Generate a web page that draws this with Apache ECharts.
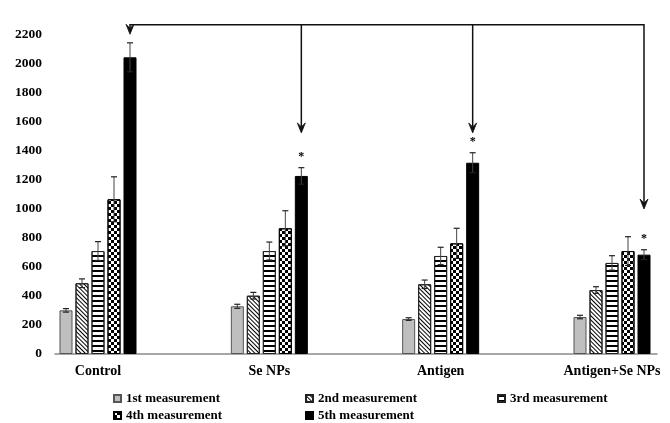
<!DOCTYPE html>
<html>
<head>
<meta charset="utf-8">
<script src="https://cdn.jsdelivr.net/npm/echarts@6/dist/echarts.min.js"></script>
<style>
  html, body { margin: 0; padding: 0; background: #fff; }
  #chart { width: 670px; height: 423px; }
</style>
</head>
<body>
<div id="chart"></div>
<script>
// groups on the x axis
const categories = ["Control", "Se NPs", "Antigen", "Antigen+Se NPs"];
const seriesNames = ["1st measurement", "2nd measurement", "3rd measurement", "4th measurement", "5th measurement"];

const m1 = [301, 329, 241, 255];
const m2 = [488, 402, 481, 441];
const m3 = [710, 710, 676, 628];
const m4 = [1067, 867, 763, 710];
const m5 = [2046, 1228, 1319, 685];

// error bar half-heights
const e1 = [12, 14, 9, 12];
const e2 = [30, 23, 29, 23];
const e3 = [65, 62, 60, 50];
const e4 = [155, 121, 104, 99];
const e5 = [100, 57, 69, 34];

// significance marks above the 5th measurement
const stars5 = ["", "*", "*", "*"];

// arrows: where each arrow ends (in y units) and the height of the top connector
const arrowTips = [2205, 1525, 1525, 1000];
const arrowTop = 2270;

const yMin = 0, yMax = 2200, yStep = 200;

const FONT = "'Liberation Serif', 'Times New Roman', serif";
const BAR_W = 13;
const GAP_PX = 3;

const means = [m1, m2, m3, m4, m5];
const errs = [e1, e2, e3, e4, e5];

const styles = [
  { color: "#bfbfbf", borderColor: "#555", borderWidth: 1 },
  {
    color: "#fff", borderColor: "#222", borderWidth: 1,
    decal: { symbol: "rect", symbolSize: 1, color: "#000", dashArrayX: [1, 0], dashArrayY: [1, 2], rotation: Math.PI / 4 }
  },
  {
    color: "#fff", borderColor: "#222", borderWidth: 1,
    decal: { symbol: "rect", symbolSize: 1, color: "#000", dashArrayX: [1, 0], dashArrayY: [1.2, 2.8], rotation: 0 }
  },
  {
    color: "#fff", borderColor: "#000", borderWidth: 1,
    decal: { symbol: "rect", symbolSize: 1, color: "#000", dashArrayX: [[3, 3], [0, 3, 3, 0]], dashArrayY: [3, 0], rotation: 0 }
  },
  { color: "#000", borderColor: "#000", borderWidth: 1 }
];

const chart = echarts.init(document.getElementById("chart"));

let series = [];
means.forEach((vals, k) => {
  series.push({
    name: seriesNames[k],
    type: "bar",
    xAxisIndex: 0,
    yAxisIndex: 0,
    barWidth: BAR_W,
    barGap: (GAP_PX / BAR_W * 100) + "%",
    clip: false,
    data: vals,
    itemStyle: styles[k],
    emphasis: { disabled: true }
  });
});

// error bars, one custom series per measurement
means.forEach((vals, k) => {
  const offset = (k - 2) * (BAR_W + GAP_PX);
  series.push({
    type: "custom",
    xAxisIndex: 0,
    yAxisIndex: 0,
    clip: false,
    z: 5,
    data: vals.map((v, i) => [i, v, errs[k][i], k == 4 ? stars5[i] : ""]),
    renderItem: function (params, api) {
      const i = api.value(0);
      const v = api.value(1);
      const e = api.value(2);
      const hi = api.coord([i, v + e]);
      const lo = api.coord([i, v - e]);
      const x = hi[0] + offset;
      const children = [
        { type: "line", shape: { x1: x, y1: hi[1], x2: x, y2: lo[1] }, style: { stroke: "#444", lineWidth: 1 } },
        { type: "line", shape: { x1: x - 3, y1: hi[1], x2: x + 3, y2: hi[1] }, style: { stroke: "#222", lineWidth: 1.2 } },
        { type: "line", shape: { x1: x - 3, y1: lo[1], x2: x + 3, y2: lo[1] }, style: { stroke: "#222", lineWidth: 1.2 } }
      ];
      const star = api.value(3);
      if (star) {
        children.push({
          type: "text",
          style: { text: star, x: x, y: hi[1] - 11, align: "center", verticalAlign: "middle", font: "bold 12px " + FONT, fill: "#000" }
        });
      }
      return { type: "group", children: children };
    }
  });
});

const legendText = { fontFamily: FONT, fontWeight: "bold", fontSize: 13, color: "#000" };
function makeLegend(left, names) {
  return {
    orient: "vertical",
    left: left,
    top: 387,
    height: 60,
    itemGap: 4,
    itemWidth: 7,
    itemHeight: 7,
    icon: "rect",
    selectedMode: false,
    textStyle: legendText,
    data: names
  };
}

const option = {
  backgroundColor: "#fff",
  animation: false,
  legend: [
    makeLegend(108, [seriesNames[0], seriesNames[3]]),
    makeLegend(300, [seriesNames[1], seriesNames[4]]),
    makeLegend(492, [seriesNames[2]])
  ],
  grid: [
    { left: 98, right: 58, top: 35, bottom: 69 },
    { left: 55, right: 13, top: 35, bottom: 69 }
  ],
  xAxis: [
    {
      gridIndex: 0,
      type: "category",
      data: categories,
      boundaryGap: false,
      axisLine: { show: false },
      axisTick: { show: false },
      axisLabel: { margin: 10, fontFamily: FONT, fontWeight: "bold", fontSize: 14, color: "#000" }
    },
    {
      gridIndex: 1,
      type: "category",
      data: [""],
      axisLine: { show: true, lineStyle: { color: "#8a8a8a", width: 1.5 } },
      axisTick: { show: false },
      axisLabel: { show: false }
    }
  ],
  yAxis: [
    { gridIndex: 0, type: "value", min: yMin, max: yMax, interval: yStep, show: false },
    {
      gridIndex: 1,
      type: "value",
      min: yMin,
      max: yMax,
      interval: yStep,
      axisLine: { show: false },
      axisTick: { show: false },
      splitLine: { show: false },
      axisLabel: {
        margin: 13, fontFamily: FONT, fontWeight: "bold", fontSize: 13.5, color: "#000",
        formatter: (v) => String(v)
      }
    }
  ],
  series: series
};
chart.setOption(option);

// arrows from the control group to the other groups
function px(i, v) {
  return chart.convertToPixel({ xAxisIndex: 0, yAxisIndex: 0 }, [i, v]);
}
const arrowOffset = 2 * (BAR_W + GAP_PX);
let graphics = [];
const xs = categories.map((c, i) => px(i, 0)[0] + arrowOffset);
const topY = px(0, arrowTop)[1];
const tipsY = arrowTips.map((v, i) => px(i, v)[1]);
graphics.push({
  type: "polyline",
  shape: { points: [[xs[0], tipsY[0] - 6], [xs[0], topY], [xs[3], topY], [xs[3], tipsY[3] - 6]] },
  style: { stroke: "#111", lineWidth: 1.5, fill: null }
});
for (let i = 1; i < 3; i++) {
  graphics.push({
    type: "line",
    shape: { x1: xs[i], y1: topY, x2: xs[i], y2: tipsY[i] - 6 },
    style: { stroke: "#111", lineWidth: 1.5 }
  });
}
xs.forEach((x, i) => {
  const t = tipsY[i];
  graphics.push({
    type: "polygon",
    shape: { points: [[x, t], [x - 4, t - 10], [x, t - 6], [x + 4, t - 10]] },
    style: { fill: "#111", stroke: "#111", lineWidth: 0.8 }
  });
});
chart.setOption({ graphic: graphics });
</script>
</body>
</html>
